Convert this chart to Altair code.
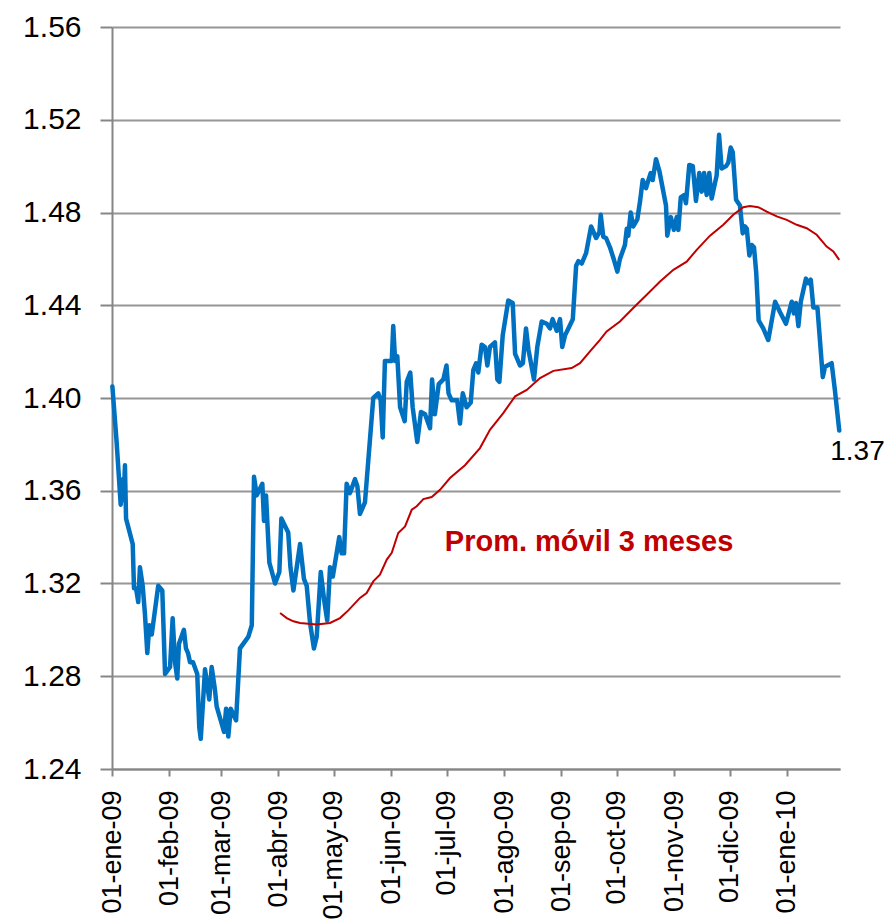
import altair as alt
import pandas as pd

# Days elapsed since 01-ene-09 and EUR/USD values
eur_day = [
    0.2, 2.5, 4.7, 5.8, 6.3, 7.0, 7.6, 11.2, 11.9, 13.0,
    14.2, 15.1, 16.6, 17.8, 19.1, 20.2, 21.5, 25.0, 27.2, 28.7,
    31.4, 32.8, 34.1, 35.3, 36.2, 38.9, 40.0, 41.1, 42.2, 43.8,
    46.1, 47.2, 48.0, 50.3, 52.6, 53.9, 55.7, 56.6, 60.6, 61.7,
    62.9, 64.2, 67.1, 69.2, 73.7, 75.6, 76.8, 78.3, 81.3, 82.2,
    83.3, 85.1, 88.2, 90.5, 91.6, 95.3, 96.5, 98.1, 101.7, 103.8,
    105.3, 107.1, 109.2, 110.7, 112.9, 114.7, 116.4, 117.9, 119.4, 122.9,
    124.2, 125.5, 126.9, 128.7, 131.4, 132.7, 134.1, 136.8, 138.6, 141.3,
    144.0, 145.3, 146.4, 147.6, 151.3, 152.1, 153.1, 154.3, 155.8, 158.3,
    159.4, 161.3, 162.6, 165.1, 167.1, 169.3, 172.0, 173.1, 174.6, 176.7,
    179.2, 180.9, 182.0, 183.7, 186.7, 188.2, 189.7, 191.8, 194.0, 195.4,
    196.9, 198.1, 199.9, 201.7, 203.0, 204.4, 207.1, 208.4, 209.5, 211.3,
    214.3, 216.7, 218.0, 220.7, 222.2, 223.9, 225.2, 228.2, 230.0, 232.4,
    235.1, 236.9, 238.3, 240.5, 242.3, 243.5, 245.0, 246.8, 249.2, 251.0,
    252.2, 254.0, 256.4, 259.1, 261.8, 263.6, 264.3, 265.7, 267.2, 269.3,
    271.5, 273.3, 274.7, 277.4, 278.4, 279.2, 280.5, 281.9, 284.1, 285.6,
    287.0, 288.8, 290.1, 291.3, 292.4, 294.2, 296.0, 299.6, 300.3, 302.2,
    303.9, 305.4, 306.3, 307.6, 309.4, 310.4, 312.2, 314.1, 315.8, 317.6,
    318.9, 320.2, 321.6, 323.0, 324.3, 327.0, 328.3, 329.7, 332.1, 333.3,
    334.6, 335.7, 337.5, 339.6, 341.1, 342.3, 343.3, 344.7, 346.0, 347.2,
    348.4, 349.7, 352.2, 354.9, 358.6, 361.3, 364.5, 367.6, 368.8, 369.9,
    371.2, 372.5, 375.3, 376.6, 377.9, 379.3, 381.5, 384.4, 385.6, 389.2,
    391.0, 393.3,
]
eur_val = [
    1.405, 1.381, 1.354, 1.365, 1.356, 1.371, 1.348, 1.337, 1.318, 1.318,
    1.312, 1.327, 1.319, 1.307, 1.290, 1.302, 1.298, 1.319, 1.317, 1.281,
    1.284, 1.305, 1.286, 1.279, 1.294, 1.300, 1.292, 1.290, 1.286, 1.286,
    1.281, 1.258, 1.253, 1.283, 1.270, 1.284, 1.274, 1.267, 1.256, 1.266,
    1.254, 1.266, 1.261, 1.292, 1.297, 1.302, 1.366, 1.358, 1.363, 1.347,
    1.358, 1.329, 1.320, 1.325, 1.348, 1.342, 1.327, 1.317, 1.337, 1.322,
    1.319, 1.303, 1.292, 1.297, 1.325, 1.313, 1.304, 1.327, 1.323, 1.340,
    1.333, 1.333, 1.363, 1.359, 1.365, 1.362, 1.350, 1.355, 1.373, 1.400,
    1.402, 1.399, 1.383, 1.416, 1.416, 1.431, 1.416, 1.418, 1.396, 1.390,
    1.407, 1.411, 1.396, 1.381, 1.394, 1.393, 1.387, 1.408, 1.393, 1.406,
    1.408, 1.414, 1.402, 1.399, 1.399, 1.389, 1.402, 1.396, 1.398, 1.412,
    1.415, 1.411, 1.423, 1.422, 1.414, 1.422, 1.424, 1.408, 1.407, 1.427,
    1.442, 1.441, 1.419, 1.414, 1.415, 1.430, 1.421, 1.408, 1.422, 1.433,
    1.432, 1.430, 1.434, 1.429, 1.434, 1.422, 1.427, 1.430, 1.434, 1.457,
    1.459, 1.458, 1.4625, 1.474, 1.469, 1.4715, 1.479, 1.4695, 1.469, 1.465,
    1.4595, 1.4545, 1.460, 1.466, 1.473, 1.470, 1.480, 1.474, 1.477, 1.485,
    1.494, 1.4905, 1.494, 1.497, 1.494, 1.503, 1.498, 1.483, 1.470, 1.478,
    1.4725, 1.478, 1.4725, 1.4865, 1.4875, 1.484, 1.5005, 1.500, 1.485, 1.497,
    1.489, 1.497, 1.4875, 1.497, 1.486, 1.496, 1.5135, 1.499, 1.500, 1.5015,
    1.508, 1.506, 1.4855, 1.483, 1.471, 1.474, 1.473, 1.4615, 1.466, 1.465,
    1.454, 1.4335, 1.430, 1.425, 1.4415, 1.437, 1.432, 1.4415, 1.4365, 1.441,
    1.431, 1.4415, 1.4515, 1.4495, 1.451, 1.439, 1.439, 1.409, 1.4135, 1.415,
    1.403, 1.386,
]

# 3-month moving average
ma_day = [
    90.9, 94.5, 98.1, 101.7, 110.7, 117.9, 123.3, 127.8, 134.1, 137.7,
    141.3, 144.9, 148.6, 151.3, 154.8, 158.5, 162.1, 164.8, 168.4, 172.9,
    177.4, 182.8, 190.9, 199.0, 204.4, 211.6, 218.0, 224.3, 231.5, 238.7,
    248.6, 253.1, 258.5, 263.9, 267.5, 274.7, 281.9, 289.2, 296.4, 303.6,
    310.8, 316.2, 323.4, 330.6, 336.0, 341.4, 345.0, 349.5, 354.1, 359.5,
    364.9, 370.3, 375.7, 381.1, 386.5, 390.1, 393.3,
]
ma_val = [
    1.3073, 1.3051, 1.3037, 1.3030, 1.3023, 1.3030, 1.3051, 1.3084, 1.3138, 1.3159,
    1.3209, 1.3238, 1.3303, 1.3332, 1.3418, 1.3446, 1.3518, 1.3533, 1.3564, 1.3573,
    1.3604, 1.3655, 1.3710, 1.3784, 1.3863, 1.3935, 1.4007, 1.4035, 1.4086, 1.4117,
    1.4129, 1.4150, 1.4201, 1.4251, 1.4287, 1.4330, 1.4388, 1.4445, 1.4502, 1.4553,
    1.4588, 1.4639, 1.4700, 1.4747, 1.4790, 1.4823, 1.4828, 1.4823, 1.4804, 1.4783,
    1.4768, 1.4747, 1.4732, 1.4704, 1.4653, 1.4632, 1.4596,
]

y_ticks = [1.24, 1.28, 1.32, 1.36, 1.40, 1.44, 1.48, 1.52, 1.56]
month_names = ["ene", "feb", "mar", "abr", "may", "jun", "jul", "ago", "sep", "oct", "nov", "dic"]
ma_label = "Prom. móvil 3 meses"
ma_label_day = 258.0
ma_label_val = 1.338
last_label = "1.37"

assert len(eur_day) == len(eur_val)
assert len(ma_day) == len(ma_val)

base = pd.Timestamp("2009-01-01")


def to_iso(days):
    return [(base + pd.to_timedelta(d, unit="D")).strftime("%Y-%m-%dT%H:%M:%SZ") for d in days]


eur_df = pd.DataFrame({"fecha": to_iso(eur_day), "valor": eur_val})
ma_df = pd.DataFrame({"fecha": to_iso(ma_day), "valor": ma_val})
ann_df = pd.DataFrame({"fecha": to_iso([ma_label_day]), "valor": [ma_label_val], "t": [ma_label]})
last_df = pd.DataFrame({"fecha": to_iso([eur_day[-1]]), "valor": [eur_val[-1]], "t": [last_label]})

month_ticks = [alt.DateTime(year=2009, month=m, date=1, utc=True) for m in range(1, 13)] + [
    alt.DateTime(year=2010, month=1, date=1, utc=True)
]

label_expr = (
    "'01-' + " + str(month_names).replace('"', "'")
    + "[utcmonth(datum.value)] + '-' + utcFormat(datum.value, '%y')"
)

x_scale = alt.Scale(
    type="utc",
    domain=[
        alt.DateTime(year=2009, month=1, date=1, utc=True),
        alt.DateTime(year=2010, month=1, date=29, hours=17, utc=True),
    ],
)
y_scale = alt.Scale(domain=[1.24, 1.56], nice=False, zero=False)

x_enc = alt.X(
    "fecha:T",
    scale=x_scale,
    title=None,
    axis=alt.Axis(
        values=month_ticks,
        labelExpr=label_expr,
        labelAngle=-90,
        labelFontSize=27,
        labelPadding=14,
        tickSize=7,
        grid=False,
        labelOverlap=False,
        labelBound=False,
        labelFlush=False,
    ),
)
y_enc = alt.Y(
    "valor:Q",
    scale=y_scale,
    title=None,
    axis=alt.Axis(
        values=y_ticks,
        format=".2f",
        labelFontSize=30,
        labelPadding=19,
        tickSize=12,
        grid=True,
    ),
)

eur_line = alt.Chart(eur_df).mark_line(
    color="#0070C0", strokeWidth=4.5, strokeJoin="round", strokeCap="round"
).encode(x=x_enc, y=y_enc)

ma_line = alt.Chart(ma_df).mark_line(color="#C00000", strokeWidth=2).encode(
    x="fecha:T", y="valor:Q"
)

ann = alt.Chart(ann_df).mark_text(
    color="#C00000", fontSize=29, fontWeight="bold", align="center", baseline="middle"
).encode(x="fecha:T", y="valor:Q", text="t:N")

last = alt.Chart(last_df).mark_text(
    color="#000000", fontSize=28, align="left", baseline="middle", dx=-9, dy=22
).encode(x="fecha:T", y="valor:Q", text="t:N")

chart = (
    alt.layer(eur_line, ma_line, ann, last)
    .properties(
        width=728,
        height=742,
        autosize=alt.AutoSizeParams(type="none"),
        padding={"left": 112, "top": 27, "right": 48, "bottom": 150},
    )
    .configure(font="Liberation Sans")
    .configure_view(stroke=None)
    .configure_axis(
        domainColor="#868686",
        domainWidth=2,
        tickColor="#868686",
        tickWidth=2,
        gridColor="#969696",
        gridWidth=2,
        labelColor="#000000",
        labelFont="Liberation Sans",
    )
)

chart.save("out.html", embed_options={"renderer": "svg", "actions": False})
